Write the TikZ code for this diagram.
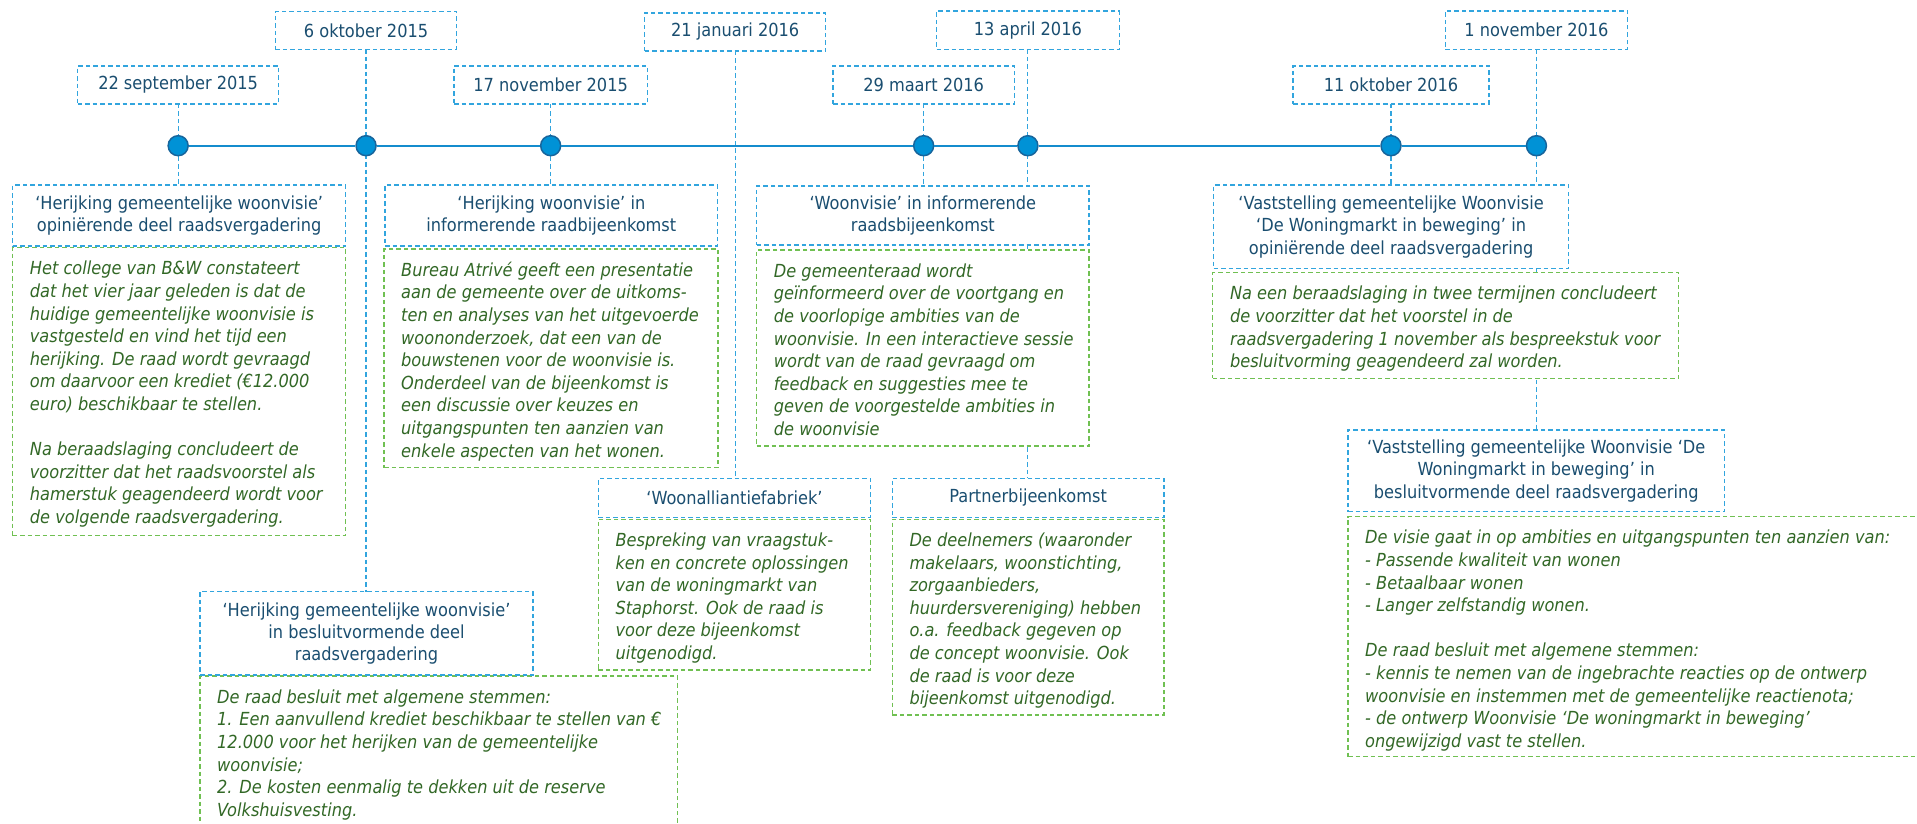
\documentclass[tikz,border=0pt]{standalone}
\usepackage{fontspec}
\setmainfont{DejaVu Sans Condensed}[ItalicFont={DejaVu Sans Condensed Oblique}]
\definecolor{boxblue}{RGB}{50,165,222}
\definecolor{boxgreen}{RGB}{112,192,82}
\definecolor{titleblue}{RGB}{26,78,112}
\definecolor{bodygreen}{RGB}{50,104,38}
\definecolor{dotfill}{RGB}{0,146,214}
\definecolor{dotborder}{RGB}{23,101,156}
\definecolor{lineblue}{RGB}{20,140,205}
\newcommand\titlefont{\fontsize{18}{22.3}\selectfont}
\newcommand\bodyfont{\fontsize{18}{22.6}\selectfont\itshape}
\newcommand\firststrut{\rule{0pt}{16pt}}
% style, name, x1, y1, x2, y2, text
\newcommand\pxbox[7]{\node[#1, minimum width={#5-#3}, minimum height={#6-#4}] (#2) at ({(#3+#5)/2},{(#4+#6)/2}) {#7};}
\newcommand\bodynode[2]{\node[bodytext] (#1t) at ([xshift=17pt,yshift=-11pt]#1.north west) {\firststrut #2};}
\begin{document}
\begin{tikzpicture}[x=1pt,y=-1pt,
  dashbox/.style={rectangle, dash pattern=on 4.5pt off 3pt, line width=1.15pt, fill=white, inner sep=0pt, outer sep=0pt},
  titlebox/.style={dashbox, draw=boxblue, text=titleblue, font=\titlefont, align=center},
  greenbox/.style={dashbox, draw=boxgreen},
  bodytext/.style={font=\bodyfont, text=bodygreen, align=left, inner sep=0pt, anchor=north west},
  conn/.style={draw=boxblue, dash pattern=on 4.5pt off 3pt, line width=1.15pt},
  dot/.style={circle, fill=dotfill, draw=dotborder, line width=1.5pt, minimum size=20pt, inner sep=0pt},
  timeline/.style={draw=lineblue, line width=1.8pt}]
\useasboundingbox (0,0) rectangle (1917,824);

% date boxes
\pxbox{titlebox}{d1}{77.7}{66}{278.6}{104}{22 september 2015}
\pxbox{titlebox}{d2}{275.4}{11.5}{456.7}{49.5}{6 oktober 2015}
\pxbox{titlebox}{d3}{454}{66}{647.3}{104}{17 november 2015}
\pxbox{titlebox}{d4}{644.6}{13}{825.9}{51}{21 januari 2016}
\pxbox{titlebox}{d5}{833}{66}{1014.3}{104}{29 maart 2016}
\pxbox{titlebox}{d6}{936.6}{11}{1119.2}{49.5}{13 april 2016}
\pxbox{titlebox}{d7}{1293}{66}{1489}{104}{11 oktober 2016}
\pxbox{titlebox}{d8}{1445.2}{11}{1627.7}{49.5}{1 november 2016}

% reference heights for connectors
\coordinate (tl) at (0,145.7);
\coordinate (topA) at (0,185);
\coordinate (topB) at (0,185);
\coordinate (topC) at (0,186);
\coordinate (topD) at (0,185);
\coordinate (topE) at (0,591.7);
\coordinate (topF) at (0,478.3);
\coordinate (topG) at (0,478.3);
\coordinate (topH) at (0,430);

% connectors
\draw[conn] (d1.south) -- (d1.south |- topA);
\draw[conn] (d2.south) -- (d2.south |- topE);
\draw[conn] (d3.south) -- (d3.south |- topB);
\draw[conn] (d4.south) -- (d4.south |- topF);
\draw[conn] (d5.south) -- (d5.south |- topC);
\draw[conn] (d6.south) -- (d6.south |- topG);
\draw[conn] (d7.south) -- (d7.south |- topD);
\draw[conn] (d8.south) -- (d8.south |- topH);

% timeline dots
\node[dot] (c1) at (d1.south |- tl) {};
\node[dot] (c2) at (d2.south |- tl) {};
\node[dot] (c3) at (d3.south |- tl) {};
\node[dot] (c5) at (d5.south |- tl) {};
\node[dot] (c6) at (d6.south |- tl) {};
\node[dot] (c7) at (d7.south |- tl) {};
\node[dot] (c8) at (d8.south |- tl) {};
\draw[timeline] (c1) -- (c2) -- (c3) -- (c5) -- (c6) -- (c7) -- (c8);

% A
\pxbox{titlebox}{A}{12.7}{185}{345.7}{246}{‘Herijking gemeentelijke woonvisie’\\opiniërende deel raadsvergadering}
\pxbox{greenbox}{gA}{12.7}{247.7}{345.7}{535.7}{}
\bodynode{gA}{Het college van B\&W constateert\\dat het vier jaar geleden is dat de\\huidige gemeentelijke woonvisie is\\vastgesteld en vind het tijd een\\herijking. De raad wordt gevraagd\\om daarvoor een krediet (€12.000\\euro) beschikbaar te stellen.\\[22.6pt]Na beraadslaging concludeert de\\voorzitter dat het raadsvoorstel als\\hamerstuk geagendeerd wordt voor\\de volgende raadsvergadering.}

% B
\pxbox{titlebox}{B}{385}{185}{717.7}{246}{‘Herijking woonvisie’ in\\informerende raadbijeenkomst}
\pxbox{greenbox}{gB}{384}{249}{718}{467.7}{}
\bodynode{gB}{Bureau Atrivé geeft een presentatie\\aan de gemeente over de uitkoms-\\ten en analyses van het uitgevoerde\\woononderzoek, dat een van de\\bouwstenen voor de woonvisie is.\\Onderdeel van de bijeenkomst is\\een discussie over keuzes en\\uitgangspunten ten aanzien van\\enkele aspecten van het wonen.}

% C
\pxbox{greenbox}{gC}{756.7}{250}{1089}{446}{}
\pxbox{titlebox}{C}{756.7}{186}{1089}{245}{‘Woonvisie’ in informerende\\raadsbijeenkomst}
\bodynode{gC}{De gemeenteraad wordt\\geïnformeerd over de voortgang en\\de voorlopige ambities van de\\woonvisie. In een interactieve sessie\\wordt van de raad gevraagd om\\feedback en suggesties mee te\\geven de voorgestelde ambities in\\de woonvisie}

% D
\pxbox{titlebox}{D}{1213.7}{185}{1568.5}{268.7}{‘Vaststelling gemeentelijke Woonvisie\\‘De Woningmarkt in beweging’ in\\opiniërende deel raadsvergadering}
\pxbox{greenbox}{gD}{1212.8}{272.7}{1678.7}{378.3}{}
\bodynode{gD}{Na een beraadslaging in twee termijnen concludeert\\de voorzitter dat het voorstel in de\\raadsvergadering 1 november als bespreekstuk voor\\besluitvorming geagendeerd zal worden.}

% E
\pxbox{greenbox}{gE}{200}{676}{677.7}{840}{}
\pxbox{titlebox}{E}{200}{591.7}{533}{675}{‘Herijking gemeentelijke woonvisie’\\in besluitvormende deel\\raadsvergadering}
\bodynode{gE}{De raad besluit met algemene stemmen:\\1. Een aanvullend krediet beschikbaar te stellen van €\\12.000 voor het herijken van de gemeentelijke\\woonvisie;\\2. De kosten eenmalig te dekken uit de reserve\\Volkshuisvesting.}

% F
\pxbox{titlebox}{F}{598.4}{478.3}{870.5}{517.3}{‘Woonalliantiefabriek’}
\pxbox{greenbox}{gF}{598.4}{519.3}{870.5}{670}{}
\bodynode{gF}{Bespreking van vraagstuk-\\ken en concrete oplossingen\\van de woningmarkt van\\Staphorst. Ook de raad is\\voor deze bijeenkomst\\uitgenodigd.}

% G
\pxbox{titlebox}{G}{892.3}{478.3}{1164}{517.3}{Partnerbijeenkomst}
\pxbox{greenbox}{gG}{892.3}{519.3}{1164}{715}{}
\bodynode{gG}{De deelnemers (waaronder\\makelaars, woonstichting,\\zorgaanbieders,\\huurdersvereniging) hebben\\o.a. feedback gegeven op\\de concept woonvisie. Ook\\de raad is voor deze\\bijeenkomst uitgenodigd.}

% H
\pxbox{titlebox}{H}{1348}{430}{1724.5}{511.7}{‘Vaststelling gemeentelijke Woonvisie ‘De\\Woningmarkt in beweging’ in\\besluitvormende deel raadsvergadering}
\pxbox{greenbox}{gH}{1348}{516.7}{1935}{756.7}{}
\bodynode{gH}{De visie gaat in op ambities en uitgangspunten ten aanzien van:\\- Passende kwaliteit van wonen\\- Betaalbaar wonen\\- Langer zelfstandig wonen.\\[22.6pt]De raad besluit met algemene stemmen:\\- kennis te nemen van de ingebrachte reacties op de ontwerp\\woonvisie en instemmen met de gemeentelijke reactienota;\\- de ontwerp Woonvisie ‘De woningmarkt in beweging’\\ongewijzigd vast te stellen.}
\end{tikzpicture}
\end{document}
